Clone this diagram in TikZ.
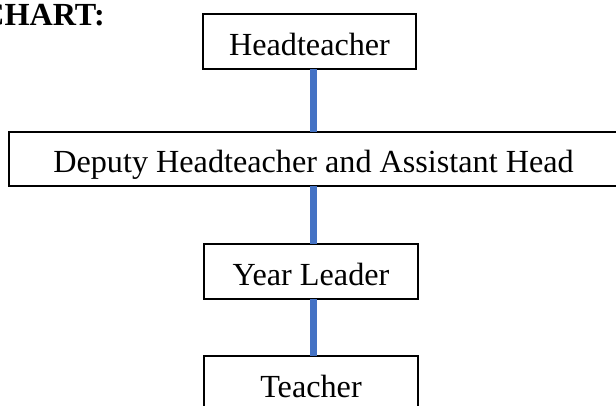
\documentclass[tikz,border=0pt]{standalone}
\usepackage{fontspec}
\setmainfont{Liberation Serif}
\definecolor{connblue}{HTML}{4472C4}
\begin{document}
\begin{tikzpicture}[x=1pt,y=1pt,
  box/.style={draw=black, line width=1.3pt, inner sep=0pt, outer sep=0pt,
    minimum height=55pt, text height=27pt, text depth=0pt,
    font=\fontsize{32.2}{36}\selectfont},
  conn/.style={draw=connblue, line width=7pt},
  title/.style={font=\fontsize{32.2}{36}\selectfont\bfseries, inner sep=0pt, anchor=base east}]
\useasboundingbox (0,0) rectangle (616,-405);
\clip (0,0) rectangle (616,-405);
\node[title] (t) at (105,-25) {CHART:};
\node[box, minimum width=213pt] (head) at (309.5,-41.5) {Headteacher};
\node[box, minimum width=609pt, minimum height=54pt] (deputy) at (313.5,-159) {Deputy Headteacher and Assistant Head};
\node[box, minimum width=214pt] (year) at (311,-271.5) {Year Leader};
\node[box, minimum width=214pt] (teacher) at (311,-383.5) {Teacher};
\draw[conn] (deputy.north |- head.south) -- (deputy.north);
\draw[conn] (deputy.south) -- (deputy.south |- year.north);
\draw[conn] (deputy.south |- year.south) -- (deputy.south |- teacher.north);
\end{tikzpicture}
\end{document}
